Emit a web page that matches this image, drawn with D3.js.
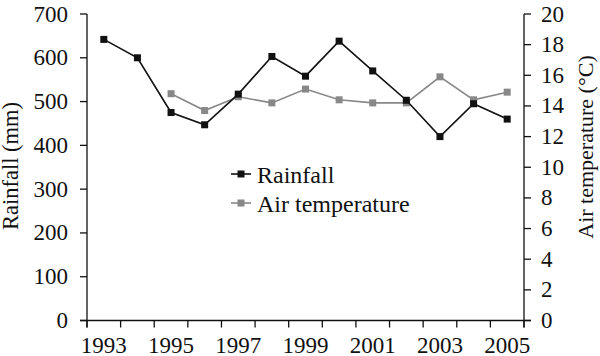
<!DOCTYPE html>
<html><head><meta charset="utf-8">
<script src="https://cdn.jsdelivr.net/npm/d3@7"></script>
<style>body{margin:0;background:#fff}svg{display:block}</style>
</head><body><svg id="c" width="600" height="356"></svg>
<script>
const years = [1993,1994,1995,1996,1997,1998,1999,2000,2001,2002,2003,2004,2005];
const rainfall = [642,600,475,447,517,603,558,638,570,503,420,495,460];
const airTemp = [null,null,14.8,13.7,14.6,14.2,15.1,14.4,14.2,14.2,15.9,14.4,14.9];
const xTickLabels = [1993,1995,1997,1999,2001,2003,2005];
const rainTicks = [0,100,200,300,400,500,600,700];
const tempTicks = [0,2,4,6,8,10,12,14,16,18,20];

const svg = d3.select("#c");
const L=87, R=524, T=14, B=320.5;
const x = d3.scaleBand().domain(years).range([L,R]);
const yR = d3.scaleLinear().domain([0,700]).range([B,T]);
const yT = d3.scaleLinear().domain([0,20]).range([B,T]);
const fs = 23;
const FF = "Liberation Serif";
const ink = "#111";

// x axis
const xa = svg.append("g").attr("transform",`translate(0,${B})`);
xa.append("line").attr("x1",L-7).attr("x2",R+7).attr("stroke",ink).attr("stroke-width",1.3);
const bounds = years.map(d=>x(d)).concat([R]);
xa.selectAll("line.t").data(bounds).join("line").attr("class","t")
  .attr("x1",d=>d).attr("x2",d=>d).attr("y1",0).attr("y2",7).attr("stroke",ink).attr("stroke-width",1.3);
xa.selectAll("text").data(xTickLabels).join("text")
  .attr("x",d=>x(d)+x.bandwidth()/2).attr("y",32).attr("text-anchor","middle")
  .attr("font-family",FF).attr("font-size",fs).attr("fill",ink).text(d=>d);

// left axis
const la = svg.append("g");
la.append("line").attr("x1",L).attr("x2",L).attr("y1",T).attr("y2",B+7).attr("stroke",ink).attr("stroke-width",1.3);
la.selectAll("line.t").data(rainTicks).join("line").attr("class","t")
  .attr("x1",L-7).attr("x2",L).attr("y1",d=>yR(d)).attr("y2",d=>yR(d)).attr("stroke",ink).attr("stroke-width",1.3);
la.selectAll("text").data(rainTicks).join("text")
  .attr("x",L-19).attr("y",d=>yR(d)+7.5).attr("text-anchor","end")
  .attr("font-family",FF).attr("font-size",fs).attr("fill",ink).text(d=>d);
svg.append("text").attr("transform","translate(18,166) rotate(-90)").attr("text-anchor","middle")
  .attr("font-family",FF).attr("font-size",22.5).attr("fill",ink).text("Rainfall (mm)");

// right axis
const ra = svg.append("g");
ra.append("line").attr("x1",R).attr("x2",R).attr("y1",T).attr("y2",B+7).attr("stroke",ink).attr("stroke-width",1.3);
ra.selectAll("line.t").data(tempTicks).join("line").attr("class","t")
  .attr("x1",R).attr("x2",R+7).attr("y1",d=>yT(d)).attr("y2",d=>yT(d)).attr("stroke",ink).attr("stroke-width",1.3);
ra.selectAll("text").data(tempTicks).join("text")
  .attr("x",R+17).attr("y",d=>yT(d)+7.5).attr("text-anchor","start")
  .attr("font-family",FF).attr("font-size",fs).attr("fill",ink).text(d=>d);
svg.append("text").attr("transform","translate(593,147) rotate(-90)").attr("text-anchor","middle")
  .attr("font-family",FF).attr("font-size",22).attr("fill",ink).text("Air temperature (°C)");

const cx = d=>x(d)+x.bandwidth()/2;
// temperature series
const tData = years.map((y,i)=>({y,v:airTemp[i]})).filter(d=>d.v!=null);
svg.append("path").datum(tData).attr("fill","none").attr("stroke","#888").attr("stroke-width",1.6)
  .attr("d",d3.line().x(d=>cx(d.y)).y(d=>yT(d.v)));
svg.selectAll("rect.t").data(tData).join("rect").attr("class","t")
  .attr("x",d=>cx(d.y)-3.5).attr("y",d=>yT(d.v)-3.5).attr("width",7).attr("height",7).attr("fill","#888");
// rainfall series
const rData = years.map((y,i)=>({y,v:rainfall[i]}));
svg.append("path").datum(rData).attr("fill","none").attr("stroke",ink).attr("stroke-width",1.6)
  .attr("d",d3.line().x(d=>cx(d.y)).y(d=>yR(d.v)));
svg.selectAll("rect.r").data(rData).join("rect").attr("class","r")
  .attr("x",d=>cx(d.y)-3.5).attr("y",d=>yR(d.v)-3.5).attr("width",7).attr("height",7).attr("fill",ink);

// legend
const legend = [{n:"Rainfall",c:ink},{n:"Air temperature",c:"#888"}];
const lg = svg.selectAll("g.lg").data(legend).join("g").attr("class","lg")
  .attr("transform",(d,i)=>`translate(231,${174+i*29})`);
lg.append("line").attr("x1",0).attr("x2",20).attr("stroke",d=>d.c).attr("stroke-width",1.6);
lg.append("rect").attr("x",6.5).attr("y",-3.5).attr("width",7).attr("height",7).attr("fill",d=>d.c);
lg.append("text").attr("x",26).attr("y",9).attr("font-family",FF).attr("font-size",24).attr("fill",ink).text(d=>d.n);
</script></body></html>
